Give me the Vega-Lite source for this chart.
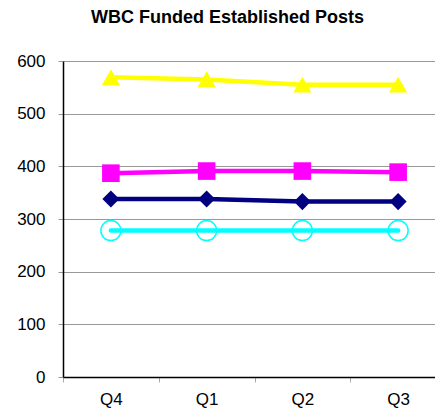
{
  "$schema": "https://vega.github.io/schema/vega-lite/v6.json",
  "width": 383,
  "height": 316,
  "autosize": "none",
  "padding": {"left": 63, "top": 61, "right": 0, "bottom": 35},
  "background": "white",
  "title": {"text": "WBC Funded Established Posts", "font": "Liberation Sans", "fontSize": 18, "fontWeight": "bold", "color": "black", "anchor": "middle", "frame": "group", "dx": -27, "offset": 25},
  "config": {"view": {"stroke": null}},
  "data": {"values": [
    {"quarter": "Q4", "series": "s1", "value": 569},
    {"quarter": "Q1", "series": "s1", "value": 565},
    {"quarter": "Q2", "series": "s1", "value": 555},
    {"quarter": "Q3", "series": "s1", "value": 555},
    {"quarter": "Q4", "series": "s2", "value": 387},
    {"quarter": "Q1", "series": "s2", "value": 391},
    {"quarter": "Q2", "series": "s2", "value": 391},
    {"quarter": "Q3", "series": "s2", "value": 389},
    {"quarter": "Q4", "series": "s3", "value": 338},
    {"quarter": "Q1", "series": "s3", "value": 338},
    {"quarter": "Q2", "series": "s3", "value": 333},
    {"quarter": "Q3", "series": "s3", "value": 333},
    {"quarter": "Q4", "series": "s4", "value": 278},
    {"quarter": "Q1", "series": "s4", "value": 278},
    {"quarter": "Q2", "series": "s4", "value": 278},
    {"quarter": "Q3", "series": "s4", "value": 278}
  ]},
  "encoding": {
    "x": {
      "field": "quarter", "type": "ordinal", "sort": ["Q4", "Q1", "Q2", "Q3"],
      "bandPosition": 0.5,
      "scale": {"type": "band", "paddingInner": 0, "paddingOuter": 0},
      "axis": {"title": null, "labelAngle": 0, "labelFont": "Liberation Sans", "labelFontSize": 17, "labelColor": "black", "labelPadding": 9, "domainColor": "black", "domainWidth": 1.5, "tickColor": "#aaaaaa", "tickSize": 5, "tickBand": "extent", "grid": false}
    },
    "y": {
      "field": "value", "type": "quantitative",
      "scale": {"domain": [0, 600], "nice": false},
      "axis": {"title": null, "values": [0, 100, 200, 300, 400, 500, 600], "labelFont": "Liberation Sans", "labelFontSize": 17, "labelColor": "black", "labelPadding": 13, "domainColor": "black", "domainWidth": 1.5, "tickColor": "#999999", "tickSize": 5, "grid": true, "gridColor": "#999999", "gridWidth": 1}
    }
  },
  "layer": [
    {
      "mark": {"type": "line", "strokeCap": "round", "strokeJoin": "round"},
      "encoding": {
        "color": {"field": "series", "type": "nominal", "scale": {"domain": ["s1", "s2", "s3", "s4"], "range": ["#FFFF00", "#FF00FF", "#000080", "#00FFFF"]}, "legend": null},
        "strokeWidth": {"field": "series", "type": "nominal", "scale": {"domain": ["s1", "s2", "s3", "s4"], "range": [4.5, 4.5, 4, 7]}, "legend": null}
      }
    },
    {
      "transform": [{"filter": "datum.series !== 's4'"}],
      "mark": {"type": "point", "filled": true, "opacity": 1},
      "encoding": {
        "color": {"field": "series", "type": "nominal", "scale": {"domain": ["s1", "s2", "s3", "s4"], "range": ["#FFFF00", "#FF00FF", "#000080", "#00FFFF"]}, "legend": null},
        "shape": {"field": "series", "type": "nominal", "scale": {"domain": ["s1", "s2", "s3"], "range": ["triangle-up", "square", "diamond"]}, "legend": null},
        "size": {"field": "series", "type": "nominal", "scale": {"domain": ["s1", "s2", "s3"], "range": [330, 290, 200]}, "legend": null}
      }
    },
    {
      "transform": [{"filter": "datum.series === 's4'"}],
      "mark": {"type": "point", "filled": false, "shape": "circle", "size": 400, "strokeWidth": 1.5, "color": "#00FFFF", "opacity": 1},
      "encoding": {}
    }
  ]
}
